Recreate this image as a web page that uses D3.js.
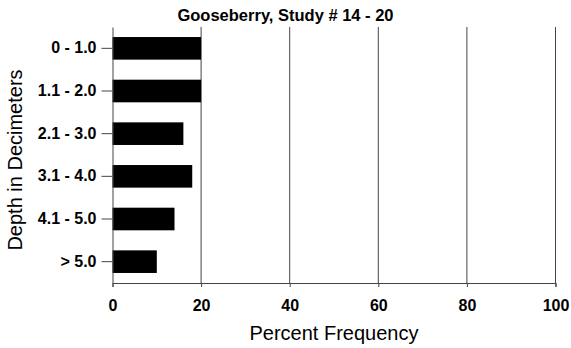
<!DOCTYPE html>
<html>
<head>
<meta charset="utf-8">
<script src="https://cdn.jsdelivr.net/npm/d3@7"></script>
<style>
  body { margin: 0; background: #fff; }
  svg { display: block; font-family: "Liberation Sans", Arial, sans-serif; }
</style>
</head>
<body>
<svg id="chart" width="571" height="348"></svg>
<script>
// data
var depths = ["0 - 1.0", "1.1 - 2.0", "2.1 - 3.0", "3.1 - 4.0", "4.1 - 5.0", "> 5.0"];
var percents = [20, 20, 16, 18, 14, 10];
var xTicks = [0, 20, 40, 60, 80, 100];

var margin = {top: 27, right: 15.5, bottom: 65, left: 112.5},
    w = 571 - margin.left - margin.right,
    h = 348 - margin.top - margin.bottom;

var svg = d3.select("#chart");
var g = svg.append("g").attr("transform", "translate(" + margin.left + "," + margin.top + ")");

var x = d3.scaleLinear().domain([0, 100]).range([0, w]);
var y = d3.scaleBand().domain(depths).range([0, h]).paddingInner(0.47).paddingOuter(0.235);

// vertical grid lines
g.selectAll(".grid")
    .data(xTicks.slice(1))
    .enter().append("line")
    .attr("x1", d => x(d)).attr("x2", d => x(d))
    .attr("y1", 0).attr("y2", h)
    .attr("stroke", "#444").attr("stroke-width", 1);

// bars
g.selectAll(".bar")
    .data(percents)
    .enter().append("rect")
    .attr("x", 0)
    .attr("y", (d, i) => y(depths[i]))
    .attr("width", d => x(d))
    .attr("height", y.bandwidth())
    .attr("fill", "#000");

// x axis
var xAxis = d3.axisBottom(x).tickValues(xTicks).tickSize(4).tickPadding(13);
var gx = g.append("g").attr("transform", "translate(0," + h + ")").call(xAxis);
gx.select(".domain").attr("stroke", "#444");
gx.selectAll(".tick line").attr("stroke", "#444");
gx.selectAll("text").attr("font-size", 16).attr("font-weight", "bold").attr("fill", "#000");

// y axis
var yAxis = d3.axisLeft(y).tickSize(11).tickSizeOuter(0).tickPadding(5);
var gy = g.append("g").call(yAxis);
gy.select(".domain").attr("stroke", "#444");
gy.selectAll(".tick line").attr("stroke", "#444");
gy.selectAll("text").attr("font-size", 16).attr("font-weight", "bold").attr("fill", "#000");

// title + labels
svg.append("text")
    .attr("x", 285.5).attr("y", 21)
    .attr("text-anchor", "middle")
    .attr("font-size", 16.5).attr("font-weight", "bold")
    .text("Gooseberry, Study # 14 - 20");

svg.append("text")
    .attr("x", margin.left + w / 2).attr("y", 340)
    .attr("text-anchor", "middle")
    .attr("font-size", 20)
    .text("Percent Frequency");

svg.append("text")
    .attr("transform", "translate(22,160) rotate(-90)")
    .attr("text-anchor", "middle")
    .attr("font-size", 20)
    .text("Depth in Decimeters");
</script>
</body>
</html>
